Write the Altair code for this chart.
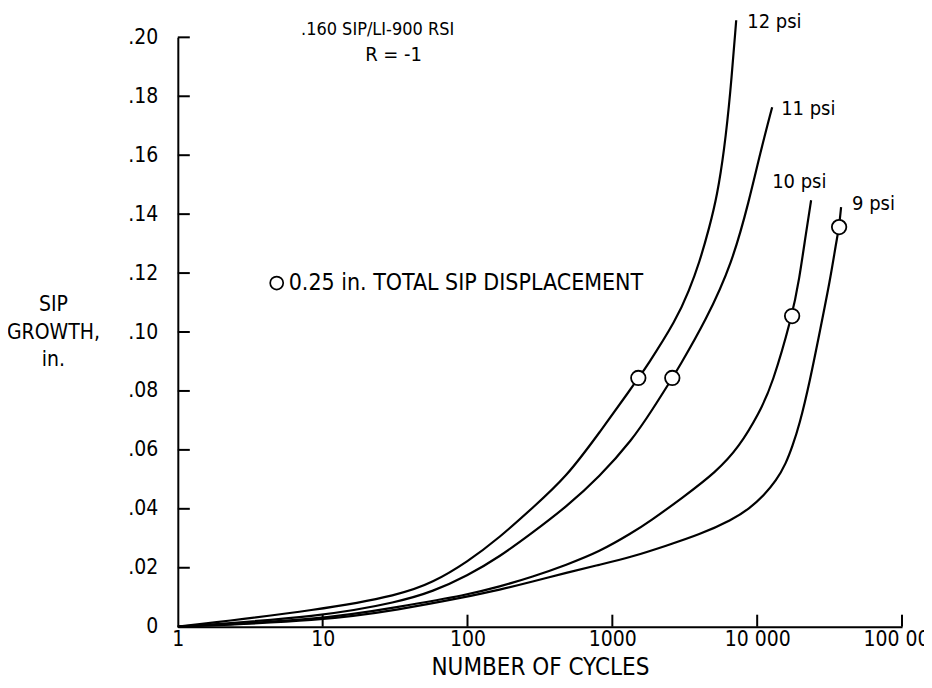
import altair as alt
import pandas as pd

FONT = "'Liberation Sans Narrow', 'DejaVu Sans Condensed', 'Liberation Sans', sans-serif"

# ---- data ----
series_names = ["12 psi", "11 psi", "10 psi", "9 psi"]

psi12_cycles = [1, 10, 34.0, 57.4, 100, 166, 281, 482, 813, 1374, 1511, 1716, 2763, 3396, 3981, 4667, 5298, 5921, 6514, 7165]
psi12_growth = [0, 0.0058, 0.0108, 0.0149, 0.0220, 0.0302, 0.0403, 0.0508, 0.0658, 0.0814, 0.0844, 0.0881, 0.1041, 0.1142, 0.1234, 0.1353, 0.1464, 0.1617, 0.1803, 0.2058]

psi11_cycles = [1, 10, 34.0, 57.4, 100, 166, 281, 482, 813, 1374, 1888, 2594, 2808, 4448, 6723, 8809, 10489, 12690]
psi11_growth = [0, 0.0034, 0.0085, 0.0119, 0.0173, 0.0237, 0.0319, 0.0407, 0.0508, 0.0634, 0.0736, 0.0844, 0.0871, 0.1041, 0.1234, 0.1447, 0.1607, 0.1763]

psi10_cycles = [1, 10, 34.0, 100, 166, 281, 482, 813, 1374, 1800, 3039, 5215, 7514, 10323, 12690, 17430, 19480, 21770, 23570]
psi10_growth = [0, 0.0024, 0.0068, 0.0108, 0.0136, 0.0169, 0.0210, 0.0254, 0.0319, 0.0356, 0.0437, 0.0525, 0.0610, 0.0725, 0.0820, 0.1054, 0.1176, 0.1339, 0.1447]

psi9_cycles = [1, 10, 34.0, 100, 166, 281, 482, 813, 1374, 2357, 3981, 6723, 8809, 11177, 13520, 15849, 17430, 19480, 23210, 27200, 31870, 35060, 36780, 37960]
psi9_growth = [0, 0.0020, 0.0058, 0.0102, 0.0125, 0.0153, 0.0183, 0.0210, 0.0237, 0.0275, 0.0312, 0.0363, 0.0400, 0.0447, 0.0495, 0.0555, 0.0610, 0.0680, 0.0837, 0.1007, 0.1176, 0.1302, 0.1356, 0.1424]

marker_label = "0.25 in. TOTAL SIP DISPLACEMENT"
marker_cycles = [1511, 2594, 17430, 36780]
marker_growth = [0.0844, 0.0844, 0.1054, 0.1356]

x_tick_values = [1, 10, 100, 1000, 10000, 100000]
x_tick_labels = ["1", "10", "100", "1000", "10 000", "100 000"]
y_tick_values = [0, 0.02, 0.04, 0.06, 0.08, 0.10, 0.12, 0.14, 0.16, 0.18, 0.20]
y_tick_labels = ["0", ".02", ".04", ".06", ".08", ".10", ".12", ".14", ".16", ".18", ".20"]

title_lines = [".160 SIP/LI-900 RSI", "R = -1"]
x_title = "NUMBER OF CYCLES"
y_title = ["SIP", "GROWTH,", "in."]

# ---- tables ----
all_cycles = [psi12_cycles, psi11_cycles, psi10_cycles, psi9_cycles]
all_growth = [psi12_growth, psi11_growth, psi10_growth, psi9_growth]
rows = []
for name, cs, gs in zip(series_names, all_cycles, all_growth):
    for i, (c, g) in enumerate(zip(cs, gs)):
        rows.append({"series": name, "cycles": c, "growth": g, "idx": i})
lines_df = pd.DataFrame(rows)

markers_df = pd.DataFrame({"cycles": marker_cycles, "growth": marker_growth})

ends_df = pd.DataFrame({"series": series_names,
                        "cycles": [cs[-1] for cs in all_cycles],
                        "growth": [gs[-1] for gs in all_growth]})

xmap = "{" + ",".join(f"'{v}':'{l}'" for v, l in zip(x_tick_values, x_tick_labels)) + "}"
ymap = "{" + ",".join(f"'{v:.2f}':'{l}'" for v, l in zip(y_tick_values, y_tick_labels)) + "}"

W, H = 725, 590

X = alt.X("cycles:Q",
          scale=alt.Scale(type="log", domain=[1, 100000], nice=False),
          axis=alt.Axis(values=x_tick_values, labelExpr=f"{xmap}[''+datum.value]",
                        ticks=False, grid=False, domainColor="black", domainWidth=2,
                        labelFont=FONT, labelFontSize=21, labelColor="black", labelPadding=2,
                        title=x_title, titleFont=FONT, titleFontSize=24, titleFontWeight="normal",
                        titleColor="black", titleBaseline="alphabetic", titleY=48,
                        labelFlush=False, labelOverlap=False))
Y = alt.Y("growth:Q",
          scale=alt.Scale(domain=[0, 0.20], nice=False, zero=True),
          axis=alt.Axis(values=y_tick_values, labelExpr=f"{ymap}[format(datum.value, '.2f')]",
                        ticks=False, grid=False, domainColor="black", domainWidth=2,
                        labelFont=FONT, labelFontSize=21, labelColor="black", labelPadding=20,
                        title=y_title, titleFont=FONT, titleFontSize=21, titleFontWeight="normal",
                        titleColor="black", titleAngle=0, titleAlign="center", titleBaseline="top",
                        titleX=-125, titleY=256, titleLineHeight=28, labelOverlap=False))

curves = alt.Chart(lines_df).mark_line(color="black", strokeWidth=2.2, interpolate="basis").encode(
    x=X, y=Y, detail="series:N", order="idx:Q")

markers = alt.Chart(markers_df).mark_point(shape="circle", size=210, filled=True, fill="white",
                                           stroke="black", strokeWidth=1.8,
                                           opacity=1).encode(x=X, y=Y)

# key: open circle + its label
key_df = pd.DataFrame({"label": [marker_label]})
key_symbol = alt.Chart(key_df).mark_point(shape="circle", size=170, filled=True, fill="white",
                                          stroke="black", strokeWidth=1.7, opacity=1).encode(
    x=alt.value(99), y=alt.value(246))
key_text = alt.Chart(key_df).mark_text(align="left", baseline="middle", font=FONT, fontSize=23,
                                       color="black").encode(
    x=alt.value(111), y=alt.value(246), text="label:N")

ytick_df = pd.DataFrame({"growth": y_tick_values[1:]})
yticks = alt.Chart(ytick_df).mark_rule(color="black", strokeWidth=2).encode(
    y=Y, x=alt.value(0), x2=alt.value(12))

xtick_df = pd.DataFrame({"cycles": x_tick_values[1:]})
xticks = alt.Chart(xtick_df).mark_rule(color="black", strokeWidth=2).encode(
    x=X, y=alt.value(H), y2=alt.value(H - 12))

offsets = {"12 psi": (11, 2), "11 psi": (9, 2), "10 psi": (-39, -18), "9 psi": (11, -3)}
label_layers = []
for name in series_names:
    dx, dy = offsets[name]
    label_layers.append(
        alt.Chart(ends_df[ends_df.series == name]).mark_text(
            align="left", baseline="middle", dx=dx, dy=dy, font=FONT, fontSize=20, color="black"
        ).encode(x=X, y=Y, text="series:N"))

title_df = pd.DataFrame({"t": title_lines, "row": [0, 1]})
title1 = alt.Chart(title_df[title_df.row == 0]).mark_text(
    align="center", baseline="middle", font=FONT, fontSize=18, color="black"
).encode(text="t:N", x=alt.value(200), y=alt.value(-7))
title2 = alt.Chart(title_df[title_df.row == 1]).mark_text(
    align="center", baseline="middle", font=FONT, fontSize=20, color="black"
).encode(text="t:N", x=alt.value(216), y=alt.value(18))

chart = alt.layer(curves, yticks, xticks, markers, key_symbol, key_text,
                  *label_layers, title1, title2).properties(
    width=W, height=H,
    autosize=alt.AutoSizeParams(type="none"),
    padding={"left": 170, "top": 29, "right": 22, "bottom": 53},
    background="white",
).configure_view(stroke=None)

chart.save("out.html", embed_options={"renderer": "svg", "actions": False})
